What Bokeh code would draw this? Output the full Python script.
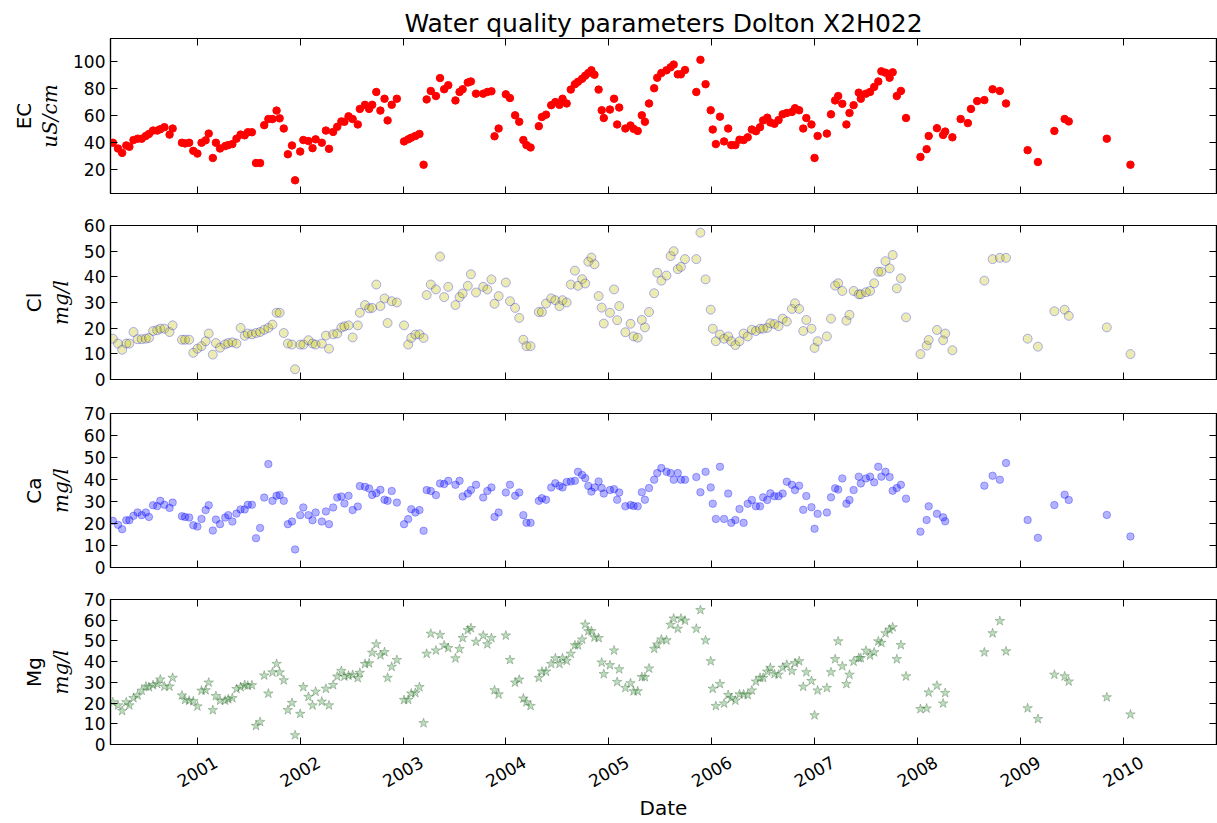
import math
from datetime import datetime

import numpy as np
from bokeh.plotting import figure
from bokeh.models import (Range1d, FixedTicker, LinearAxis, DatetimeAxis,
                          CustomJSTickFormatter, DatetimeTickFormatter, ColumnDataSource)
from bokeh.layouts import column
from bokeh.embed import file_html
from bokeh.resources import INLINE

NaN = float("nan")

# ---------------- data ----------------
# sampling dates as decimal years
sample_dates = [
    2000.18, 2000.23, 2000.27, 2000.31, 2000.34, 2000.38, 2000.42, 2000.46, 2000.50, 2000.53,
    2000.57, 2000.61, 2000.64, 2000.68, 2000.73, 2000.76, 2000.85, 2000.88, 2000.92, 2000.96,
    2001.00, 2001.04, 2001.08, 2001.11, 2001.15, 2001.18, 2001.22, 2001.27, 2001.30, 2001.34,
    2001.38, 2001.42, 2001.46, 2001.49, 2001.53, 2001.57, 2001.61, 2001.65, 2001.69, 2001.73,
    2001.77, 2001.80, 2001.84, 2001.88, 2001.92, 2001.95, 2002.00, 2002.03, 2002.08, 2002.12,
    2002.15, 2002.21, 2002.25, 2002.28, 2002.32, 2002.36, 2002.40, 2002.43, 2002.47, 2002.51,
    2002.56, 2002.58, 2002.63, 2002.67, 2002.70, 2002.74, 2002.78, 2002.82, 2002.85, 2002.89,
    2002.94, 2003.01, 2003.05, 2003.08, 2003.12, 2003.16, 2003.20, 2003.23, 2003.27, 2003.32,
    2003.36, 2003.40, 2003.44, 2003.51, 2003.55, 2003.58, 2003.63, 2003.66, 2003.71, 2003.78,
    2003.82, 2003.86, 2003.89, 2003.93, 2004.00, 2004.04, 2004.09, 2004.13, 2004.17, 2004.20,
    2004.24, 2004.32, 2004.35, 2004.39, 2004.44, 2004.48, 2004.52, 2004.55, 2004.59, 2004.63,
    2004.67, 2004.70, 2004.74, 2004.77, 2004.80, 2004.83, 2004.86, 2004.90, 2004.93, 2004.95,
    2005.01, 2005.05, 2005.08, 2005.10,
    2005.16, 2005.21, 2005.24, 2005.28, 2005.32, 2005.35, 2005.39, 2005.44, 2005.47, 2005.51,
    2005.56, 2005.60, 2005.63, 2005.67, 2005.70, 2005.74, 2005.85, 2005.89, 2005.94, 2005.99,
    2006.01, 2006.04, 2006.08, 2006.12, 2006.16, 2006.19, 2006.23, 2006.27, 2006.31, 2006.35,
    2006.39, 2006.43, 2006.47, 2006.50, 2006.54, 2006.57, 2006.61, 2006.65, 2006.69, 2006.73,
    2006.78, 2006.81, 2006.85, 2006.89, 2006.92, 2006.97, 2007.00, 2007.03, 2007.12, 2007.16,
    2007.20, 2007.23, 2007.27, 2007.31, 2007.34, 2007.38, 2007.43, 2007.45, 2007.50, 2007.54,
    2007.58, 2007.62, 2007.65, 2007.69, 2007.73, 2007.76, 2007.80, 2007.84, 2007.89,
    2008.03, 2008.09, 2008.11, 2008.19, 2008.25, 2008.27, 2008.34,
    2008.42, 2008.49, 2008.52, 2008.58, 2008.65, 2008.73, 2008.80, 2008.86,
    2009.07, 2009.17, 2009.33, 2009.43, 2009.47, 2009.84, 2010.07,
]

ec_values = [
    40, 35.7, 32.5, 38, 37, 42, 43, 43, 45, 46.5,
    49, 49, 50, 51.5, 46, 50.5, 40, 39.5, 40, 34,
    32, 40, 41.75, 46.75, 28.75, 40, 35.75, 37.5, 38.25, 39,
    43, 46, 45.5, 47.75, 47.75, 25, 25, 53, 57.5, 57.5,
    63.75, 58, 50.5, 31.5, 38, 12.25, 33.5, 42, 41.25, 36,
    42.5, 40, 49, 35.5, 48, 51.75, 55.75, 55.5, 59.5, 57.5,
    53.5, 65, 68, 65, 68, 77.5, 63.75, 72.5, 56.5, 68,
    72.5, 41, 42.5, 43.75, 45, 46.5, 23.75, 72, 78.25, 74.5,
    87.75, 79.5, 82.5, 71.25, 77.5, 79.5, 84.5, 85.25, 76.25, 76.25,
    77.5, 78, 44.75, 50.5, 75.75, 73, 60.25, 55.5, 42, 38.25,
    36.5, 52.25, 59, 60.75, 67.75, 70, 68, 72.5, 69, 79.25,
    83.25, 85, 87.25, 89.5, 91.5, 93.5, 90.25, 79.25, 64, 58.25,
    64.5, 72.5, 53.5, 66,
    50.5, 52.75, 50.25, 48.75, 60.25, 55.5, 69, 80.25, 88, 91.5,
    93.5, 95.75, 97.75, 90.5, 90.5, 93.75, 77.5, 101.25, 83.25, 64,
    49.75, 39, 59.25, 41, 50.5, 38.25, 38.25, 42.25, 42, 44,
    49.75, 48.5, 51.5, 56.5, 58.5, 55, 54, 56.75, 61, 62,
    62.75, 65.5, 64, 50.5, 58.25, 53.5, 28.75, 45, 46.75, 61,
    71.25, 74.5, 68.75, 53.5, 62, 67.75, 77, 72.5, 76.25, 77.5,
    81.25, 85.25, 92.75, 91.75, 88, 92, 74.5, 78.25, 58.25,
    29.5, 35.25, 45, 50.75, 45.75, 48.25, 44,
    57.5, 54.5, 65, 70.75, 71.5, 79.5, 78.25, 69,
    34.5, 25.75, 48.75, 57.5, 55.75, 43, 23.75,
]

cl_values = [
    15.9, 14, 11.6, 14, 14, 18.5, 15.7, 15.7, 15.9, 16.2,
    18.9, 19.2, 19.8, 19.8, 18.5, 21.1, 15.5, 15.5, 15.5, 10.4,
    12, 13, 14.9, 17.9, 9.7, 14.2, 12.4, 13.7, 14.2, 14.5,
    14, 20.1, 17, 17.9, 17.6, 18.1, 18.5, 19.4, 20.1, 21.4,
    26, 26, 18.1, 14, 13.6, 4, 13.6, 13.6, 15.3, 14,
    13.6, 14, 17.1, 12, 17.6, 17.9, 20.2, 20.7, 21.1, 16.4,
    21.1, 26, 29, 27.7, 27.9, 37, 28.6, 31.6, 22, 30.5,
    30, 21.1, 13.6, 16.2, 17.5, 17.6, 16.2, 32.9, 37, 35.1,
    47.9, 32.1, 36.1, 29, 32.1, 33.5, 36.5, 41, 33.9, 36.1,
    35.1, 39, 29.5, 32.5, 37.8, 30.5, 27.9, 24, 15.5, 13,
    13, 26.3, 26.3, 29.6, 31.6, 30.9, 28.6, 30.9, 30, 37,
    42.4, 36.5, 39.1, 37.4, 45.9, 47.5, 44.9, 32.5, 28, 21.8,
    26, 35.1, 23.1, 28.6,
    18.4, 21.7, 16.8, 16.3, 23.2, 20.3, 26.3, 33.6, 41.6, 38.5,
    40.5, 48.1, 50, 43, 43.9, 46.9, 46.9, 57.2, 39, 27.2,
    19.8, 14.9, 17.5, 15.9, 16.8, 14.9, 13.4, 14.9, 17.9, 16.8,
    19.4, 18.9, 19.8, 19.8, 20.1, 21.9, 21.6, 20.8, 23.7, 22.6,
    27.5, 29.7, 27.5, 18.9, 23.2, 19.8, 12.3, 14.9, 16.8, 23.7,
    36.6, 37.5, 34.5, 22.9, 25.2, 34.5, 33.2, 33.2, 34, 34.5,
    37.5, 42, 42, 46.1, 43.3, 48.5, 35.5, 39.4, 24.2,
    9.9, 13.2, 15.4, 19.3, 15.3, 17.9, 11.4,
    NaN, NaN, NaN, NaN, 38.5, 46.9, 47.4, 47.4,
    15.9, 12.8, 26.6, 27.2, 24.8, 20.3, 9.9,
]

ca_values = [
    21.2, 19.4, 17.4, 21.5, 21.5, 23.5, 25, 23.8, 25, 23,
    28.3, 27.9, 30.3, 28.5, 27.1, 29.5, 23.3, 23, 22.7, 19.2,
    18.6, 22.1, 26.1, 28.3, 16.8, 21.8, 19.7, 22.7, 23.8, 20.9,
    24.5, 26.4, 26.4, 28.5, 28.5, 13.3, 18, 31.8, 47, 30.3,
    32.6, 33, 30.3, 19.7, 20.9, 8.2, 23.8, 27.3, 23.8, 21.5,
    25, 20.9, 25.5, 19.7, 27.3, 31.8, 32.3, 29.1, 32.6, 26.1,
    27.7, 37, 36.7, 35.9, 33, 33.8, 35.3, 30.8, 30.3, 34.8,
    29.5, 19.7, 22, 26.5, 25, 26.1, 16.7, 35.2, 34.8, 32.9,
    38.2, 37.9, 39.4, 37.6, 39.4, 32.3, 33.6, 35.2, 37.6, 31.8,
    34.8, 36.4, 23, 25, 34.1, 37.6, 32.6, 34.1, 23.8, 20.3,
    20.3, 30.3, 31.5, 30.8, 36.4, 38.3, 37.1, 36.4, 38.9, 39.1,
    39.4, 43.5, 42.1, 40.6, 37.1, 34.5, 36.4, 39.1, 36.1, 33.6,
    35.2, 35.6, 30.8, 34.1,
    27.8, 28.4, 28, 27.8, 34.2, 30.8, 36.1, 39.9, 42.9, 45.2,
    43.5, 42.9, 39.9, 42.9, 39.9, 39.9, 41.1, 34.2, 43.5, 36.4,
    29, 22.1, 45.8, 22.1, 33.6, 20.3, 21.6, 26.6, 20.3, 29,
    30.7, 27.8, 27.8, 31.9, 30.7, 33.7, 32.4, 32.4, 33.6, 39,
    37.6, 35.2, 37.2, 26.2, 32.5, 27.4, 17.6, 24.4, 25, 31.9,
    36, 35.4, 40.5, 29, 30.7, 35.2, 41.3, 38.2, 40.5, 41.3,
    38.7, 45.8, 41.3, 43.5, 41.1, 34.9, 36.1, 37.6, 31.3,
    16.3, 21.6, 27.8, 24.4, 22.8, 21, NaN,
    NaN, NaN, NaN, NaN, 37.2, 41.7, 39.9, 47.5,
    21.6, 13.5, 28.4, 33.1, 30.7, 23.9, 14.1,
]

mg_values = [
    20.4, 18.9, 16.2, 20.4, 18.9, 22.4, 23.7, 26, 28, 27.7,
    28.7, 29.2, 31.4, 28, 28, 32.2, 23.7, 21.5, 21.2, 20.9,
    18.4, 26, 26.2, 29.9, 16.6, 23.4, 21.2, 21.2, 21.9, 22.4,
    26.8, 27.7, 28.7, 28.4, 28.6, 9, 10.9, 33.3, 24.6, 34.8,
    38.9, 34.8, 31, 16.6, 20.1, 4.5, 14.8, 27.7, 23, 18.9,
    25.5, 20.7, 26.9, 18.9, 28.7, 32.8, 35.5, 32.8, 33.3, 33.6,
    32.1, 34.6, 38.9, 39.2, 44.3, 48.4, 43.1, 44.6, 32.2, 37.5,
    40.8, 21.5, 21.6, 24.6, 24.9, 27.7, 10.3, 43.8, 53.5, 45.4,
    52.9, 47.9, 46.6, 41.6, 46.1, 51.4, 55.2, 56.2, 49.6, 52.6,
    48.4, 51.4, 26.2, 24.2, 52.6, 40.8, 29.9, 31.3, 22.2, 20.4,
    18.6, 32.2, 35.2, 35.2, 38.9, 41.6, 38.9, 41.6, 40.4, 43.8,
    47.9, 47.9, 50.7, 57.9, 54.7, 54.7, 51.7, 51.4, 39.6, 34,
    38.3, 45.4, 30.2, 36.3,
    27.3, 29.6, 25.7, 25.7, 32.6, 32.5, 36.7, 46.2, 48.3, 50.7,
    50.3, 57.8, 60.8, 55.9, 60.8, 59.8, 55.9, 64.9, 50.3, 40.2,
    26.9, 18.6, 29.2, 19.8, 23.9, 22.4, 21.2, 24.2, 24.2, 23.9,
    26.1, 30.4, 32.2, 32.2, 35.2, 37, 34, 33.7, 37.1, 38.5,
    35.5, 39.3, 40.2, 27.9, 34.9, 30.7, 14.1, 26.1, 27.3, 34.9,
    41.2, 49.8, 37.8, 29.2, 33.7, 40, 41.7, 41.7, 45.3, 43,
    44.5, 49.8, 49.1, 53.7, 55.5, 56.6, 41.2, 48, 32.9,
    17.1, 17.4, 25.1, 28.4, 19.8, 24.9, NaN,
    NaN, NaN, NaN, NaN, 44.5, 53.7, 59.6, 45,
    17.5, 12.3, 33.7, 32.9, 30.4, 22.8, 14.5,
]

year_ticks = [2001, 2002, 2003, 2004, 2005, 2006, 2007, 2008, 2009, 2010]
x_limits = (2000.157, 2010.907)
ec_ticks = [20, 40, 60, 80, 100]
ec_limits = (2.5, 117)
cl_ticks = [0, 10, 20, 30, 40, 50, 60]
cl_limits = (0, 60)
cation_ticks = [0, 10, 20, 30, 40, 50, 60, 70]
cation_limits = (0, 70)

title_text = "Water quality parameters Dolton X2H022"
names = ["EC", "Cl", "Ca", "Mg"]
units = ["uS/cm", "mg/l", "mg/l", "mg/l"]
x_label = "Date"


def year_to_ms(y):
    yr = int(math.floor(y))
    start = datetime(yr, 1, 1)
    end = datetime(yr + 1, 1, 1)
    dt = start + (end - start) * (y - yr)
    return (dt - datetime(1970, 1, 1)).total_seconds() * 1000.0


x_ms = np.array([year_to_ms(d) for d in sample_dates])

# ---------------- layout ----------------
W = 1217
LEFT = 110
RIGHT = 1
FONT = "DejaVu Sans"
TICK_FONT = "17px"
blank = CustomJSTickFormatter(code="return ''")
xr = Range1d(year_to_ms(x_limits[0]), year_to_ms(x_limits[1]))
xt = FixedTicker(ticks=[year_to_ms(y) for y in year_ticks])
# rotated year labels are right-aligned by Bokeh; anchor them a bit later in the
# year so that each label is centred under its tick, as in the reference
LABEL_SHIFT = 0.18
xt_labels = FixedTicker(ticks=[year_to_ms(y + LABEL_SHIFT) for y in year_ticks])
year_fmt = DatetimeTickFormatter(
    microseconds="%Y", milliseconds="%Y", seconds="%Y", minsec="%Y", minutes="%Y",
    hourmin="%Y", hours="%Y", days="%Y", months="%Y", years="%Y")


def style_axis(ax, labels):
    ax.axis_line_color = "black"
    ax.axis_line_width = 1.2
    ax.major_tick_in = 7
    ax.major_tick_out = 0
    ax.major_tick_line_color = "black"
    ax.major_tick_line_width = 1
    ax.minor_tick_line_color = None
    ax.minor_tick_in = 0
    ax.minor_tick_out = 0
    if labels:
        ax.major_label_text_font = FONT
        ax.major_label_text_font_size = TICK_FONT
        ax.major_label_text_color = "black"
        ax.major_label_standoff = 5
    else:
        ax.formatter = blank
        ax.major_label_standoff = 0
        ax.major_label_text_font_size = "1px"


def panel(height, top, bottom, ylim, yticks, name, unit):
    p = figure(width=W, height=height, x_range=xr, y_range=Range1d(*ylim),
               x_axis_type="datetime", output_backend="svg", toolbar_location=None,
               min_border_left=LEFT, min_border_right=RIGHT,
               min_border_top=top, min_border_bottom=bottom)
    p.grid.visible = False
    p.outline_line_color = "black"
    p.outline_line_width = 1.2
    p.background_fill_color = "white"
    p.border_fill_color = "white"
    p.xaxis[0].ticker = xt
    p.yaxis[0].ticker = FixedTicker(ticks=yticks)
    p.add_layout(LinearAxis(ticker=FixedTicker(ticks=yticks)), "right")
    p.add_layout(DatetimeAxis(ticker=xt), "above")
    for ax in p.xaxis:
        style_axis(ax, False)
    left = p.yaxis[0]
    style_axis(left, True)
    style_axis(p.yaxis[1], False)
    # unit label (math italic) next to the tick labels
    left.axis_label = unit
    left.axis_label_text_font = "DejaVu Serif"
    left.axis_label_text_font_style = "italic"
    left.axis_label_text_font_size = "20px"
    left.axis_label_text_color = "black"
    left.axis_label_standoff = 8
    # quantity name on an outer, otherwise empty axis
    name_axis = LinearAxis(ticker=FixedTicker(ticks=[]), formatter=blank,
                           axis_line_color=None, major_tick_line_color=None,
                           minor_tick_line_color=None, major_label_standoff=0,
                           major_label_text_font_size="1px",
                           axis_label=name, axis_label_text_font=FONT,
                           axis_label_text_font_style="normal",
                           axis_label_text_font_size="20px",
                           axis_label_text_color="black", axis_label_standoff=0)
    p.add_layout(name_axis, "left")
    return p


src = ColumnDataSource(data=dict(
    x=x_ms,
    ec=np.array(ec_values, dtype=float),
    cl=np.array(cl_values, dtype=float),
    ca=np.array(ca_values, dtype=float),
    mg=np.array(mg_values, dtype=float),
))

# EC
p1 = panel(209, 38, 16, ec_limits, ec_ticks, names[0], units[0])
p1.scatter("x", "ec", source=src, marker="circle", size=7.5,
           fill_color="#ff0000", line_color="#ff0000")
p1.title.text = title_text
p1.title.align = "center"
p1.title.text_font = FONT
p1.title.text_font_size = "25px"
p1.title.text_font_style = "normal"
p1.title.text_color = "black"
p1.title.standoff = 2

# Cl
p2 = panel(187, 16, 17, cl_limits, cl_ticks, names[1], units[1])
p2.scatter("x", "cl", source=src, marker="circle", size=9,
           fill_color=(191, 191, 0), fill_alpha=0.3,
           line_color="blue", line_alpha=0.3)

# Ca
p3 = panel(186, 17, 15, cation_limits, cation_ticks, names[2], units[2])
p3.scatter("x", "ca", source=src, marker="circle", size=7.5,
           fill_color="blue", fill_alpha=0.3, line_color="blue", line_alpha=0.3)

# Mg
p4 = panel(241, 17, 70, cation_limits, cation_ticks, names[3], units[3])
p4.scatter("x", "mg", source=src, marker="star", size=10,
           fill_color=(0, 128, 0), fill_alpha=0.26,
           line_color=(60, 100, 60), line_alpha=0.35)
year_axis = DatetimeAxis(ticker=xt_labels, formatter=year_fmt,
                         axis_line_color=None, major_tick_line_color=None,
                         minor_tick_line_color=None, major_tick_in=0, major_tick_out=0,
                         major_label_orientation=math.pi / 6, major_label_standoff=16,
                         major_label_text_font=FONT, major_label_text_font_size=TICK_FONT,
                         major_label_text_color="black",
                         axis_label=x_label, axis_label_text_font=FONT,
                         axis_label_text_font_style="normal",
                         axis_label_text_font_size="20px", axis_label_text_color="black",
                         axis_label_standoff=0)
p4.add_layout(year_axis, "below")

layout = column(p1, p2, p3, p4)
open("out.html", "w").write(file_html(layout, INLINE, title=title_text))
